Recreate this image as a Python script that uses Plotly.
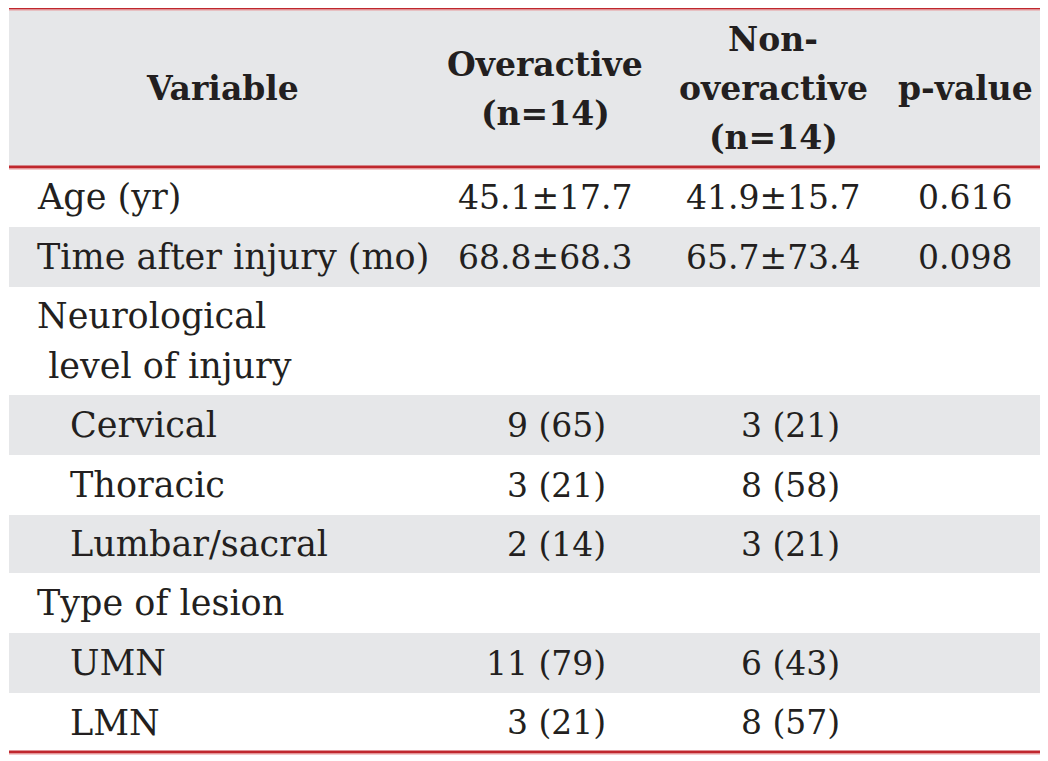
import plotly.graph_objects as go

# ---- data ----
headers = ["Variable", "Overactive<br>(n=14)", "Non-<br>overactive<br>(n=14)", "p-value"]
variables = ["Age (yr)", "Time after injury (mo)", "Neurological<br> level of injury",
             "Cervical", "Thoracic", "Lumbar/sacral", "Type of lesion", "UMN", "LMN"]
indent = [0, 0, 0, 1, 1, 1, 0, 1, 1]
overactive = ["45.1±17.7", "68.8±68.3", "", "9 (65)", "3 (21)", "2 (14)", "", "11 (79)", "3 (21)"]
non_overactive = ["41.9±15.7", "65.7±73.4", "", "3 (21)", "8 (58)", "3 (21)", "", "6 (43)", "8 (57)"]
p_values = ["0.616", "0.098", "", "", "", "", "", "", ""]

# ---- layout geometry (reference pixel coordinates) ----
W, H = 1048, 761
OFF = 8  # page body margin
left, right = 9, 1042
header_top, header_bot = 8, 167
row_edges = [167, 227, 287, 395, 455, 515, 573, 633, 693, 752]
shaded = [False, True, False, True, False, True, False, True, False]
grey = "#e6e7e9"
red = "#c0272d"
ink = "#231f20"
serif = "DejaVu Serif"
fs_lab = 35
fs_num = 33
fs_head = 33
col_center = [222, 545, 773, 965]
head_spacing = 49
lab_spacing = 50

shapes = []
shapes.append(dict(type="rect", x0=left, x1=right, y0=header_top, y1=header_bot,
                   fillcolor=grey, line_width=0, layer="below"))
for i, s in enumerate(shaded):
    if s:
        shapes.append(dict(type="rect", x0=left, x1=right, y0=row_edges[i], y1=row_edges[i + 1],
                           fillcolor=grey, line_width=0, layer="below"))
for yy in [header_top, header_bot, row_edges[-1]]:
    shapes.append(dict(type="line", x0=left, x1=right, y0=yy, y1=yy,
                       line=dict(color=red, width=3)))
    shapes.append(dict(type="line", x0=left, x1=right, y0=yy + 2, y1=yy + 2,
                       line=dict(color="#e89a9c", width=1)))

ann = []


def add_lines(text, x, ycenter, spacing, size, xanchor, bold=False):
    parts = text.split("<br>")
    n = len(parts)
    for k, p in enumerate(parts):
        y = ycenter + (k - (n - 1) / 2) * spacing
        t = "<b>" + p + "</b>" if bold else p
        ann.append(dict(x=x, y=y, text=t.replace(" ", "&nbsp;", 1) if p.startswith(" ") else t,
                        showarrow=False, xanchor=xanchor, yanchor="middle",
                        font=dict(family=serif, size=size, color=ink)))


hy = (header_top + header_bot) / 2 + 1
for h, cx in zip(headers, col_center):
    add_lines(h, cx, hy, head_spacing, fs_head, "center", bold=True)

for i, v in enumerate(variables):
    cy = (row_edges[i] + row_edges[i + 1]) / 2
    x0 = 35 if indent[i] == 0 else 68
    add_lines(v, x0, cy, lab_spacing, fs_lab, "left")
    for val, cx, rx in [(overactive[i], 545, 608), (non_overactive[i], 773, 842)]:
        if not val:
            continue
        if "±" in val:
            ann.append(dict(x=cx, y=cy, text=val, showarrow=False, xanchor="center", yanchor="middle",
                            font=dict(family=serif, size=fs_num, color=ink)))
        else:
            ann.append(dict(x=rx, y=cy, text=val, showarrow=False, xanchor="right", yanchor="middle",
                            font=dict(family=serif, size=fs_num, color=ink)))
    if p_values[i]:
        ann.append(dict(x=965, y=cy, text=p_values[i], showarrow=False, xanchor="center",
                        yanchor="middle", font=dict(family=serif, size=fs_num, color=ink)))

FW, FH = W - OFF, H - OFF
fig = go.Figure()
fig.update_layout(
    width=FW, height=FH, margin=dict(l=0, r=0, t=0, b=0),
    paper_bgcolor="white", plot_bgcolor="white",
    xaxis=dict(range=[OFF, W], visible=False, fixedrange=True),
    yaxis=dict(range=[H, OFF], visible=False, fixedrange=True),
    shapes=shapes, annotations=ann, showlegend=False,
)
fig.write_html("out.html")
